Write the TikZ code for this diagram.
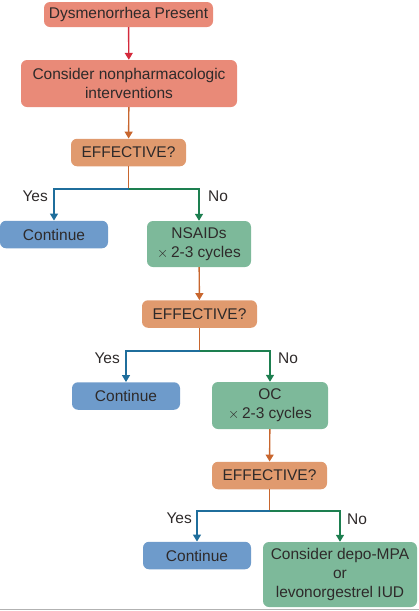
\documentclass[tikz,border=0pt]{standalone}
\usepackage{fontspec}
\setmainfont{Liberation Sans}
\usetikzlibrary{arrows.meta}
\definecolor{salmon}{HTML}{E98A78}
\definecolor{redarr}{HTML}{D42A3C}
\definecolor{orangeln}{HTML}{C8662E}
\definecolor{effill}{HTML}{E09A6E}
\definecolor{bluefill}{HTML}{6E9BCB}
\definecolor{blueln}{HTML}{1F6E9C}
\definecolor{greenfill}{HTML}{7DB99A}
\definecolor{greenln}{HTML}{1D7F50}
\definecolor{txt}{HTML}{2E2A2A}
\tikzset{
  box/.style={rounded corners=6pt, inner sep=0pt, align=center, text=txt,
    font=\fontsize{15.5}{18.8}\selectfont},
  startbox/.style={box, fill=salmon},
  effbox/.style={box, fill=effill, minimum width=115pt, minimum height=27.5pt},
  contbox/.style={box, fill=bluefill, minimum width=108pt, minimum height=27.5pt},
  treatbox/.style={box, fill=greenfill},
  lbl/.style={text=txt, font=\fontsize{15.5}{18}\selectfont, inner sep=0pt},
  ln/.style={line width=1.4pt},
  tip/.style={-{Triangle[width=8pt,length=7pt]}},
}
\begin{document}
\begin{tikzpicture}[x=1pt,y=-1pt]
\useasboundingbox (0,0) rectangle (419,611);
\draw[gray!60, line width=1pt] (0,609.5) -- (419,609.5);

\node[startbox, minimum width=169pt, minimum height=25pt] (n1) at (128.5,14.5) {Dysmenorrhea Present};
\node[startbox, minimum width=216pt, minimum height=47pt] (n2) at (129,83.5) {Consider nonpharmacologic\\interventions};
\node[effbox] (e1) at (128.5,152.5) {EFFECTIVE?};
\node[contbox] (c1) at (54,234.5) {Continue};
\node[treatbox, minimum width=104pt, minimum height=46pt] (t1) at (199,244) {NSAIDs\\$\times$\,2-3 cycles};
\node[effbox] (e2) at (199.5,314) {EFFECTIVE?};
\node[contbox] (c2) at (126,396) {Continue};
\node[treatbox, minimum width=116pt, minimum height=47pt] (t2) at (270,405.5) {OC\\$\times$\,2-3 cycles};
\node[effbox] (e3) at (269.5,475.5) {EFFECTIVE?};
\node[contbox] (c3) at (197,555.5) {Continue};
\node[treatbox, minimum width=154pt, minimum height=65pt] (t3) at (340,574.5) {Consider depo-MPA\\or\\levonorgestrel IUD};

\coordinate (j1) at (128.5,189);
\coordinate (j2) at (199.5,351);
\coordinate (j3) at (269.5,511);

\draw[ln, redarr, tip] (n1) -- (n2);
\draw[ln, orangeln, tip] (n2) -- (e1);
\draw[ln, orangeln] (e1) -- (j1);
\draw[ln, blueln, tip] (j1) -| (c1.north);
\draw[ln, greenln, tip] (j1) -| (t1.north);
\draw[ln, orangeln, tip] (t1) -- (e2);
\draw[ln, orangeln] (e2) -- (j2);
\draw[ln, blueln, tip] (j2) -| (c2.north);
\draw[ln, greenln, tip] (j2) -| (t2.north);
\draw[ln, orangeln, tip] (t2) -- (e3);
\draw[ln, orangeln] (e3) -- (j3);
\draw[ln, blueln, tip] (j3) -| (c3.north);
\draw[ln, greenln, tip] (j3) -| (t3.north);

\node[lbl, anchor=east] (y1) at (48,196) {Yes};
\node[lbl, anchor=west] (no1) at (208,196) {No};
\node[lbl, anchor=east] (y2) at (120,358) {Yes};
\node[lbl, anchor=west] (no2) at (278,358) {No};
\node[lbl, anchor=east] (y3) at (192,518) {Yes};
\node[lbl, anchor=west] (no3) at (347,519) {No};
\end{tikzpicture}
\end{document}
